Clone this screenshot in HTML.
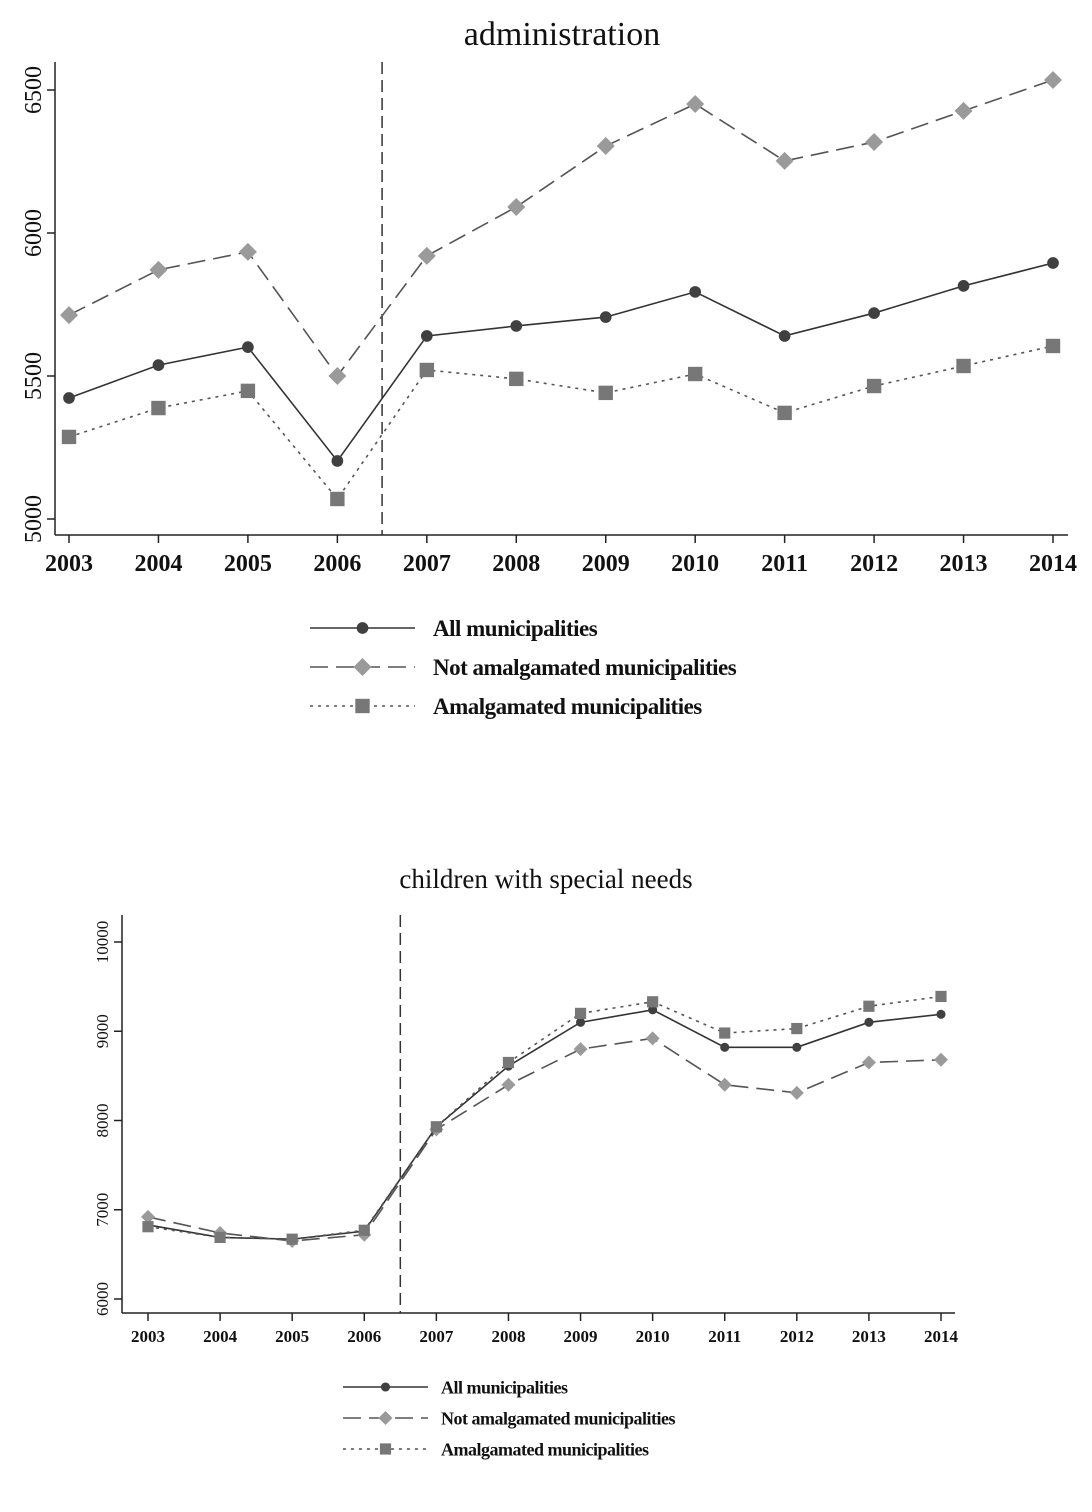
<!DOCTYPE html>
<html><head><meta charset="utf-8"><style>
body{margin:0;background:#fff}
svg{display:block}
text{font-family:"Liberation Serif",serif;fill:#111}
</style></head><body>
<svg id="c" width="1092" height="1512"></svg>
<script>
const years=[2003,2004,2005,2006,2007,2008,2009,2010,2011,2012,2013,2014];
const adminAll=[5423,5538,5601,5203,5640,5675,5706,5794,5640,5720,5815,5895];
const adminNot=[5713,5871,5934,5500,5920,6091,6304,6451,6252,6318,6427,6535];
const adminAmal=[5287,5388,5448,5070,5521,5490,5441,5507,5371,5465,5535,5605];
const adminTicks=[5000,5500,6000,6500];
const specAll=[6830,6690,6670,6760,7930,8610,9100,9240,8820,8820,9100,9190];
const specNot=[6920,6740,6650,6720,7900,8400,8800,8920,8400,8310,8650,8680];
const specAmal=[6810,6690,6670,6770,7930,8650,9200,9330,8980,9030,9280,9390];
const specTicks=[6000,7000,8000,9000,10000];
const legendLabels=["All municipalities","Not amalgamated municipalities","Amalgamated municipalities"];
const reformYear=2006.5;

const svg=document.getElementById('c');
const NS='http://www.w3.org/2000/svg';
function mk(tag,attrs,parent){const e=document.createElementNS(NS,tag);for(const k in attrs)e.setAttribute(k,attrs[k]);(parent||svg).appendChild(e);return e;}

function marker(g,type,x,y,s,color){
  let m;
  if(type==='circle'){m=mk('circle',{cx:x,cy:y,r:s*0.65,fill:color},g);}
  else if(type==='diamond'){m=mk('polygon',{points:`${x},${y-s} ${x+s},${y} ${x},${y+s} ${x-s},${y}`,fill:color},g);}
  else {m=mk('rect',{x:x-s*0.8,y:y-s*0.8,width:s*1.6,height:s*1.6,fill:color},g);}
  return m;
}

function panel(o){
  const g=mk('g',{});
  
  
  const xs=v=>o.x0+(v-years[0])/(years[years.length-1]-years[0])*(o.x1-o.x0);
  const ys=v=>o.y0+(v-o.v0)/(o.v1-o.v0)*(o.y1-o.y0);
  const t=mk('text',{x:o.titleX,y:o.titleY,'text-anchor':'middle','font-size':o.titleSize},g);t.textContent=o.title;
  
  const ya=mk('line',{x1:o.axL,y1:o.axT,x2:o.axL,y2:o.axB,stroke:'#222','stroke-width':1.5},g);
  
  const xa=mk('line',{x1:o.axL,y1:o.axB,x2:o.axR,y2:o.axB,stroke:'#222','stroke-width':1.5},g);
  
  o.ticks.forEach(v=>{const y=ys(v);
    mk('line',{x1:o.axL-8,y1:y,x2:o.axL,y2:y,stroke:'#222','stroke-width':1.5},g);
    const tx=mk('text',{x:o.axL-14,y:y,'text-anchor':'middle','font-size':o.yTickSize,transform:`rotate(-90 ${o.axL-14} ${y})`},g);
    tx.textContent=v;});
  years.forEach(v=>{const x=xs(v);
    mk('line',{x1:x,y1:o.axB,x2:x,y2:o.axB+8,stroke:'#222','stroke-width':1.5},g);
    const tx=mk('text',{x:x,y:o.axB+o.tickSize+12,'text-anchor':'middle','font-size':o.tickSize,'font-weight':'bold'},g);
    tx.textContent=v;});
  const rx=xs(reformYear);
  const rl=mk('line',{x1:rx,y1:o.axT,x2:rx,y2:o.axB,stroke:'#333','stroke-width':1.5,'stroke-dasharray':'12,6'},g);
  
  const series=[
    {d:o.all,c:'#404040',dash:'',m:'circle',n:'series-all'},
    {d:o.not,c:'#9a9a9a',dash:'18,8',m:'diamond',n:'series-not-amalgamated'},
    {d:o.amal,c:'#777',dash:'3,5',m:'square',n:'series-amalgamated'}];
  series.forEach((s,i)=>{
    const sg=mk('g',{},g);
    const lc=s.dash?'#555':'#333';
    mk('polyline',{points:s.d.map((v,j)=>xs(years[j])+','+ys(v)).join(' '),fill:'none',stroke:lc,'stroke-width':1.6,'stroke-dasharray':s.dash},sg);
    s.d.forEach((v,j)=>{const p=marker(sg,s.m,xs(years[j]),ys(v),o.ms,s.c);
      });
    const ly=o.legY+i*o.legGap;
    const lg=mk('g',{},g);
    mk('line',{x1:o.legX0,y1:ly,x2:o.legX1,y2:ly,stroke:lc,'stroke-width':1.6,'stroke-dasharray':s.dash},lg);
    marker(lg,s.m,(o.legX0+o.legX1)/2,ly,o.ms,s.c);
    const lt=mk('text',{x:o.legTX,y:ly+o.legSize*0.35,'font-size':o.legSize,'font-weight':'bold','letter-spacing':'-0.5'},lg);lt.textContent=legendLabels[i];
  });
}
panel({name:'administration-panel',title:'administration',titleX:562,titleY:45,titleSize:34,
  x0:69,x1:1053,v0:5000,v1:6500,y0:519,y1:90,axL:55,axR:1068,axT:62,axB:535,
  ticks:adminTicks,tickSize:24,yTickSize:24,all:adminAll,not:adminNot,amal:adminAmal,ms:9,
  legY:628,legGap:39,legX0:310,legX1:415,legTX:433,legSize:23});
panel({name:'special-needs-panel',title:'children with special needs',titleX:546,titleY:888,titleSize:27,
  x0:148,x1:941,v0:6000,v1:10000,y0:1299,y1:942,axL:122,axR:955,axT:915,axB:1313,
  ticks:specTicks,tickSize:17,yTickSize:17,all:specAll,not:specNot,amal:specAmal,ms:7,
  legY:1387,legGap:31,legX0:343,legX1:428,legTX:441,legSize:18});
</script>
</body></html>
